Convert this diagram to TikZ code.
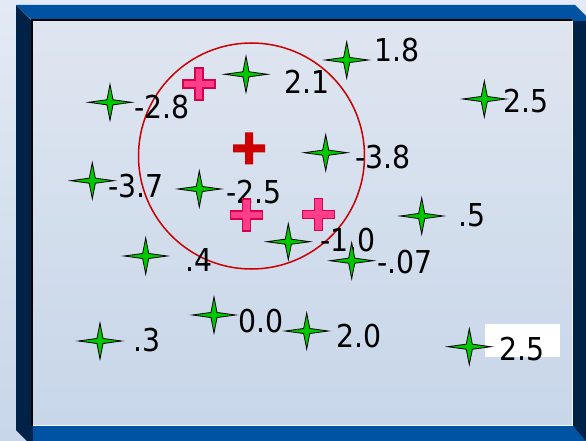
\documentclass[tikz,border=0pt]{standalone}
\usepackage{fontspec}
\usepackage{tikz}
\usetikzlibrary{shapes.geometric}
\newfontfamily\numfont{DejaVu Sans Condensed}

\definecolor{bgtop}{HTML}{E3EAF5}
\definecolor{bgbot}{HTML}{C7D6E9}
\definecolor{rimblue}{HTML}{0052A3}
\definecolor{rimdark}{HTML}{002246}
\definecolor{stargreen}{HTML}{00C800}
\definecolor{plusfill}{HTML}{FF3D8B}
\definecolor{plusline}{HTML}{D9004A}
\definecolor{centred}{HTML}{CC0000}

\tikzset{
  plusmark/.pic={
    \path[pic actions] (-16,-4) -- (-4,-4) -- (-4,-16) -- (4,-16) -- (4,-4) -- (16,-4)
      -- (16,4) -- (4,4) -- (4,16) -- (-4,16) -- (-4,4) -- (-16,4) -- cycle;
  },
}

\begin{document}
\begin{tikzpicture}[
          x=1pt, y=-1pt,
          every node/.style={font=\numfont\fontsize{31.5}{34}\selectfont},
          pt/.style={star,star points=4,star point ratio=5,minimum size=36pt,
                     inner sep=0pt,xscale=1.2,draw=black,line width=0.8pt,fill=stargreen},
          val/.style={anchor=base west,inner sep=0pt},
          pinkplus/.style={fill=plusfill,draw=plusline,line width=1.1pt},
          midplus/.style={fill=centred},
          ring/.style={circle,draw=centred,line width=1.5pt,inner sep=0pt,minimum size=226pt},
        ]
        \useasboundingbox (0,0) rectangle (586,441);
        \shade[top color=bgtop,bottom color=bgbot] (0,0) rectangle (586,441);
        \fill[rimdark] (16,5) -- (33,22) -- (33,441) -- (27,441) -- (16,430) -- cycle;
        \fill[rimblue] (16,5) -- (575,5) -- (586,16) -- (586,21) -- (33,21) -- cycle;
        \fill[rimdark] (572,21) rectangle (586,441);
        \fill[rimblue] (33,425) -- (572,425) -- (586,441) -- (33,441) -- cycle;
        \shade[top color=bgtop!96!gray,bottom color=bgbot] (33,21) rectangle (572,425);
        \draw[white!85!bgbot,line width=1pt] (33,425) -- (572,425) -- (572,21);
        \draw[black,line width=2pt] (32,425) -- (32,20) -- (572,20);
        \fill[white] (485,324) rectangle (560,356.7);

        \node[ring] (clus) at (251.5,156) {};

        \node[val] (l18)  at (374,61.7)   {1.8};
        \node[val] (l21)  at (284,94)     {2.1};
        \node[val] (lm28) at (134.5,118.3){-2.8};
        \node[val] (l25a) at (503,112.7)  {2.5};
        \node[val] (lm38) at (355,168)    {-3.8};
        \node[val] (lm37) at (108.5,197.3){-3.7};
        \node[val] (lm25) at (226,203.3)  {-2.5};
        \node[val] (l05)  at (458,226.7)  {.5};
        \node[val] (lm10) at (320,251.7)  {-1.0};
        \node[val] (l04)  at (185.5,271.7){.4};
        \node[val] (lm007) at (377,273.3) {-.07};
        \node[val] (l03)  at (133,351.7)  {.3};
        \node[val] (l00)  at (238,332.3)  {0.0};
        \node[val] (l20)  at (336,347.7)  {2.0};
        \node[val] (l25b) at (499.5,360)  {2.5};

        \node[pt] (s18)  at (346.7,60)   {};
        \node[pt] (s21)  at (246,74.3)   {};
        \node[pt] (sm28) at (110,102.3)  {};
        \node[pt] (s25a) at (484.3,99)   {};
        \node[pt] (sm38) at (325.7,152.7){};
        \node[pt] (sm37) at (92.3,180.7) {};
        \node[pt] (sm25) at (199.3,189)  {};
        \node[pt] (s05)  at (421.7,216)  {};
        \node[pt] (sm10) at (288.3,241.7){};
        \node[pt] (s04)  at (145.7,256)  {};
        \node[pt] (sm007) at (351.7,260.7){};
        \node[pt] (s03)  at (100,341)    {};
        \node[pt] (s00)  at (214,315)    {};
        \node[pt] (s20)  at (306.7,331)  {};
        \node[pt] (s25b) at (469.3,346.7){};

        \pic[pinkplus] (pa) at (199,84)      {plusmark};
        \pic[pinkplus] (pb) at (246.7,215)   {plusmark};
        \pic[pinkplus] (pc) at (318.3,214.3) {plusmark};
        \pic[midplus]  (pm) at (249,148.3)   {plusmark};
      \end{tikzpicture}
\end{document}
